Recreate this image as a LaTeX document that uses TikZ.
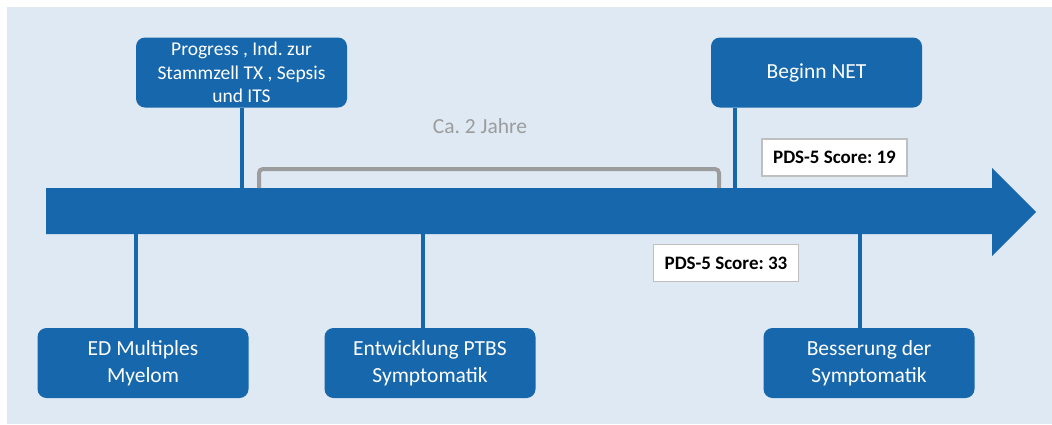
\documentclass[tikz,border=0pt]{standalone}
\usepackage{fontspec}
\setmainfont{Carlito}
\frenchspacing
\definecolor{tlblue}{HTML}{1767AD}
\definecolor{tlbg}{HTML}{DFE9F4}
\definecolor{tlgray}{HTML}{9C9C9C}
\definecolor{tlbord}{HTML}{BFBFBF}
\begin{document}
\begin{tikzpicture}[x=1pt,y=-1pt,
  evbox/.style={fill=tlblue,draw=none,rounded corners=9pt,text=white,
    minimum width=211pt,minimum height=70pt,align=center,inner sep=0pt,
    font=\fontsize{21.5}{27}\selectfont},
  scorebox/.style={fill=white,draw=tlbord,line width=1.2pt,minimum width=145pt,
    minimum height=37pt,inner sep=0pt,font=\fontsize{19}{22}\selectfont\bfseries},
  stem/.style={draw=tlblue,line width=4.5pt},
  bracket/.style={draw=tlgray,line width=4pt,rounded corners=4pt}]
\useasboundingbox (0,0) rectangle (1052,424);
\fill[white] (0,0) rectangle (1052,424);
\fill[tlbg] (7,7) rectangle (1052,424);
% arrow
\fill[tlblue] (46,188) -- (992,188) -- (992,168) -- (1036,212) -- (992,256) -- (992,234) -- (46,234) -- cycle;
\coordinate (axtop1) at (242,188);
\coordinate (axtop2) at (735,188);
\coordinate (axbot1) at (136,234);
\coordinate (axbot2) at (423,234);
\coordinate (axbot3) at (860,234);
% top boxes
\node[evbox,font=\fontsize{19.5}{23.5}\selectfont] (prog) at (241.5,72.5) {Progress , Ind. zur\\Stammzell TX , Sepsis\\und ITS};
\node[evbox] (net) at (816.5,72.5) {Beginn NET};
% bottom boxes
\node[evbox] (ed) at (143,363) {ED Multiples\\Myelom};
\node[evbox] (ptbs) at (430,363) {Entwicklung PTBS\\Symptomatik};
\node[evbox] (bess) at (869,363) {Besserung der\\Symptomatik};
% stems
\draw[stem] (prog.south -| axtop1) -- (axtop1);
\draw[stem] (net.south -| axtop2) -- (axtop2);
\draw[stem] (axbot1) -- (ed.north -| axbot1);
\draw[stem] (axbot2) -- (ptbs.north -| axbot2);
\draw[stem] (axbot3) -- (bess.north -| axbot3);
% bracket
\coordinate (bl) at (259,188);
\coordinate (br) at (719,188);
\draw[bracket] (bl) -- (259,169) -- (719,169) -- (br);
\node[text=tlgray,font=\fontsize{21.5}{24}\selectfont] (jahre) at (480,126) {Ca. 2 Jahre};
% score boxes
\node[scorebox] (s19) at (834.5,157.5) {PDS-5 Score: 19};
\node[scorebox] (s33) at (726,263) {PDS-5 Score: 33};
\end{tikzpicture}
\end{document}
